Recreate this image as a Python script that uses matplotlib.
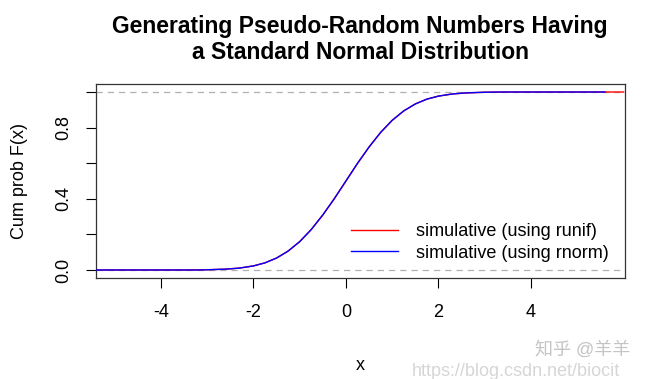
import matplotlib.pyplot as plt

x_unif = [-5.4, -3.4, -3.0, -2.6, -2.3, -2.0, -1.75, -1.5, -1.25, -1.0, -0.75, -0.5, -0.25,
          0.0, 0.25, 0.5, 0.75, 1.0, 1.25, 1.5, 1.75, 2.0, 2.3, 2.6, 3.0, 3.5, 6.0]
F_unif = [0.0, 0.0, 0.0014, 0.0047, 0.0107, 0.0228, 0.040, 0.067, 0.106, 0.159, 0.227, 0.309, 0.401,
          0.500, 0.599, 0.691, 0.773, 0.841, 0.894, 0.933, 0.960, 0.977, 0.989, 0.995, 0.9987, 1.0, 1.0]

x_norm = [-5.4, -3.2, -3.0, -2.6, -2.3, -2.0, -1.75, -1.5, -1.25, -1.0, -0.75, -0.5, -0.25,
          0.0, 0.25, 0.5, 0.75, 1.0, 1.25, 1.5, 1.75, 2.0, 2.3, 2.6, 3.0, 3.3, 5.6]
F_norm = [0.0, 0.0, 0.0013, 0.0047, 0.0107, 0.0228, 0.040, 0.067, 0.106, 0.159, 0.227, 0.309, 0.401,
          0.500, 0.599, 0.691, 0.773, 0.841, 0.894, 0.933, 0.960, 0.977, 0.989, 0.995, 0.9987, 1.0, 1.0]

x_ticks = [-4, -2, 0, 2, 4]
y_ticks = [0.0, 0.2, 0.4, 0.6, 0.8, 1.0]
y_labels = ['0.0', '', '0.4', '', '0.8', '']

plt.rcParams['font.family'] = ['Liberation Sans', 'Noto Sans CJK SC', 'DejaVu Sans']

fig = plt.figure(figsize=(6.56, 3.79), dpi=100)
ax = fig.add_axes([96/656, 1 - 278/379, (625 - 96)/656, (278 - 84)/379])

ax.axhline(0, color='#b0b0b0', ls=(0, (5, 4)), lw=0.9, zorder=1)
ax.axhline(1, color='#b0b0b0', ls=(0, (5, 4)), lw=0.9, zorder=1)
ax.plot(x_unif, F_unif, color='red', lw=1.0, label='simulative (using runif)', zorder=2)
ax.plot(x_norm, F_norm, color='blue', lw=1.0, label='simulative (using rnorm)', zorder=3)

ax.set_xlim(-5.4, 6.03)
ax.set_ylim(-0.045, 1.045)
ax.set_xticks(x_ticks)
ax.set_xticklabels([str(t) for t in x_ticks])
ax.set_yticks(y_ticks)
ax.set_yticklabels(y_labels, rotation=90, va='center')
ax.tick_params(length=7, width=0.8, labelsize=13, pad=12)
ax.tick_params(axis='y', pad=10)
for s in ax.spines.values():
    s.set_linewidth(0.9)
    s.set_color('#333333')

ax.set_xlabel('x', fontsize=13, labelpad=26)
ax.set_ylabel('Cum prob F(x)', fontsize=13, labelpad=20)
fig.suptitle('Generating Pseudo-Random Numbers Having\na Standard Normal Distribution',
             x=360/656, y=0.96, fontsize=16.5, fontweight='bold', linespacing=1.15)

ax.legend(loc='lower right', frameon=False, fontsize=13, handlelength=2.6,
          borderaxespad=0.5, labelspacing=0.25, handletextpad=1.0)

fig.text(535/656, 1 - 350/379, '知乎 @羊羊', color='#c4c4c4', fontsize=13, va='center')
fig.text(412/656, 1 - 372/379, 'https://blog.csdn.net/biocit', color='#d6d6d6', fontsize=13, va='center')

fig.savefig('out.png', dpi=100)
